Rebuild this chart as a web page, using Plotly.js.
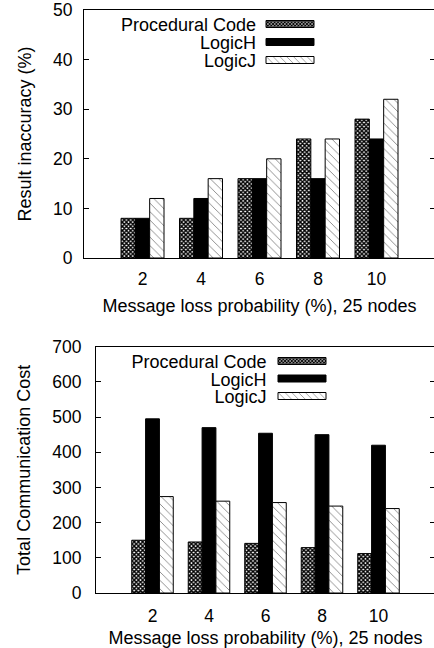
<!DOCTYPE html>
<html><head><meta charset="utf-8">
<script src="https://cdn.plot.ly/plotly-3.0.1.min.js"></script>
<style>
html,body{margin:0;padding:0;overflow:hidden;background:#fff;width:434px;height:648px}
#chart{width:440px;height:648px}
</style>
</head><body><div id="chart"></div>
<script>
// ---- data ----
const lossProb = [2, 4, 6, 8, 10];
const seriesNames = ['Procedural Code', 'LogicH', 'LogicJ'];
const inaccProcedural = [8, 8, 16, 24, 28];
const inaccLogicH = [8, 12, 16, 16, 24];
const inaccLogicJ = [12, 16, 20, 24, 32];
const costProcedural = [150, 145, 141, 129, 112];
const costLogicH = [495, 470, 454, 450, 420];
const costLogicJ = [274, 261, 257, 247, 240];
const xTicks = [2, 4, 6, 8, 10];
const inaccTicks = [0, 10, 20, 30, 40, 50];
const costTicks = [0, 100, 200, 300, 400, 500, 600, 700];
const xTitle = 'Message loss probability (%), 25 nodes';
const inaccTitle = 'Result inaccuracy (%)';
const costTitle = 'Total Communication Cost';

// ---- styles ----
const W = 440, H = 648;
const FONT = {family: '"Liberation Sans", Arial, Helvetica, sans-serif', size: 18, color: '#000'};
const TICKFONT = {family: '"Liberation Sans", Arial, Helvetica, sans-serif', size: 17.5, color: '#000'};
const edge = {color: '#000', width: 1};
const styles = [
  {color: '#fff', line: edge, pattern: {shape: 'x', fgcolor: '#000', bgcolor: '#fff', size: 3, solidity: 0.72}},
  {color: '#000', line: edge},
  {color: '#fff', line: edge, pattern: {shape: '\\', fgcolor: '#666', bgcolor: '#fff', size: 6, solidity: 0.12}}
];

function bars(ys, xa, ya, legend) {
  return ys.map((y, i) => ({
    type: 'bar', x: lossProb, y: y, name: seriesNames[i],
    xaxis: xa, yaxis: ya, legend: legend, showlegend: true,
    marker: styles[i], hoverinfo: 'none'
  }));
}

const data = [
  ...bars([inaccProcedural, inaccLogicH, inaccLogicJ], 'x', 'y', 'legend'),
  ...bars([costProcedural, costLogicH, costLogicJ], 'x2', 'y2', 'legend2')
];

function xax(domain, anchor, standoff, tstand) {
  return {
    domain: domain, anchor: anchor, range: [0, 12], tickvals: xTicks,
    ticks: '', showline: true, mirror: true, linecolor: '#000', linewidth: 1,
    showgrid: false, zeroline: false, tickfont: TICKFONT, ticklabelstandoff: tstand,
    automargin: false, fixedrange: true,
    title: {text: xTitle, font: FONT, standoff: standoff}
  };
}
function yax(domain, anchor, range, ticks, title, standoff, tstand) {
  return {
    domain: domain, anchor: anchor, range: range, tickvals: ticks,
    ticks: 'inside', ticklen: 5, tickcolor: '#000', tickwidth: 1,
    showline: true, mirror: 'ticks', linecolor: '#000', linewidth: 1,
    showgrid: false, zeroline: false, tickfont: TICKFONT, ticklabelstandoff: tstand,
    automargin: false, fixedrange: true,
    title: {text: title, font: FONT, standoff: standoff}
  };
}

const layout = {
  width: W, height: H, margin: {l: 0, r: 0, t: 0, b: 0},
  paper_bgcolor: '#fff', plot_bgcolor: '#fff', font: FONT,
  barmode: 'group', bargap: 0.265, bargroupgap: 0,
  xaxis: xax([84 / W, 435 / W], 'y', 11, 5),
  yaxis: yax([1 - 258 / H, 1 - 10 / H], 'x', [0, 50], inaccTicks, inaccTitle, 16, 7),
  xaxis2: xax([96 / W, 435 / W], 'y2', 13, 7),
  yaxis2: yax([1 - 593 / H, 1 - 346.7 / H], 'x2', [0, 700], costTicks, costTitle, 16, 10),
  legend: {x: 0.3, y: 0.97, xanchor: 'left', yanchor: 'top', bgcolor: 'rgba(0,0,0,0)', borderwidth: 0, font: FONT, tracegroupgap: 0},
  legend2: {x: 0.3, y: 0.45, xanchor: 'left', yanchor: 'top', bgcolor: 'rgba(0,0,0,0)', borderwidth: 0, font: FONT, tracegroupgap: 0},
  showlegend: true
};

// gnuplot-style key: label on the left, right-aligned, swatch on the right
function placeLegend(id, rows, textRight, swatchC) {
  const gd = document.getElementById('chart');
  const lg = gd.querySelector('g.' + id);
  if (!lg) return;
  lg.querySelectorAll('[clip-path]').forEach(e => e.removeAttribute('clip-path'));
  const bg = lg.querySelector('rect.bg'); if (bg) bg.style.display = 'none';
  lg.querySelectorAll('g.traces').forEach((it, i) => {
    const pm = it.parentNode.getCTM();
    it.setAttribute('transform', 'translate(0,' + (rows[i] - pm.f) + ')');
    const txt = it.querySelector('text.' + id + 'text') || it.querySelector('text');
    if (txt) {
      txt.setAttribute('text-anchor', 'end');
      txt.style.textAnchor = 'end';
      txt.setAttribute('x', textRight - pm.e);
      txt.querySelectorAll('tspan').forEach(t => { if (t.hasAttribute('x')) t.setAttribute('x', textRight - pm.e); });
    }
    const layers = it.querySelector('g.layers');
    if (layers) layers.setAttribute('transform', 'translate(' + (swatchC - pm.e) + ',0)');
    it.querySelectorAll('g.legendpoints path').forEach(p => {
      p.setAttribute('d', 'M-24,-3.5H24V3.5H-24Z');
      p.setAttribute('transform', 'translate(0,0)');
    });
    it.querySelectorAll('rect').forEach(r => { r.style.display = 'none'; });
  });
}
function fixAll() {
  placeLegend('legend', [24, 42, 60], 256, 290);
  placeLegend('legend2', [361, 378.5, 396], 266.5, 302);
}

const gd = document.getElementById('chart');
Plotly.newPlot(gd, data, layout, {staticPlot: true, displayModeBar: false}).then(() => {
  fixAll();
  gd.on('plotly_afterplot', fixAll);
  requestAnimationFrame(fixAll);
  setTimeout(fixAll, 50);
});
</script>
</body></html>
